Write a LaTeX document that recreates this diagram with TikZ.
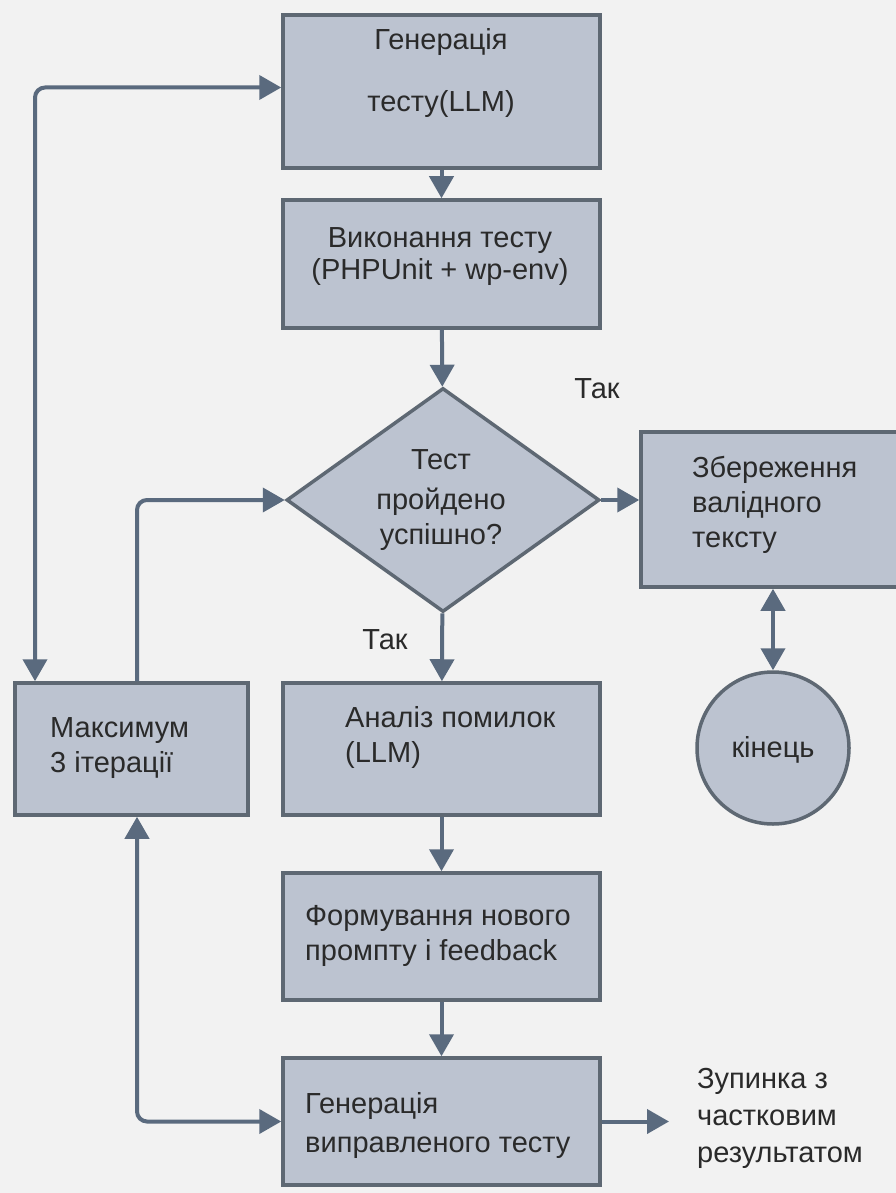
\documentclass[tikz,border=0pt]{standalone}
\usepackage{fontspec}
\setmainfont{Liberation Sans}
\usetikzlibrary{arrows.meta,shapes.geometric}
\definecolor{bg}{HTML}{F2F2F2}
\definecolor{boxfill}{HTML}{BCC3D0}
\definecolor{boxline}{HTML}{5E6873}
\definecolor{link}{HTML}{5A6A7E}
\definecolor{ink}{HTML}{2A2A2A}
\begin{document}
\begin{tikzpicture}[x=1pt,y=-1pt,
  >={Triangle[length=22pt,width=24pt]},
  box/.style={draw=boxline, fill=boxfill, line width=3.5pt, inner sep=0pt},
  txt/.style={font=\fontsize{29}{35}\selectfont, text=ink, inner sep=0pt},
  conn/.style={draw=link, line width=4pt}]
  % canvas
  \fill[bg] (0,0) rectangle (896,1193);
  \useasboundingbox (0,0) rectangle (896,1193);

  % boxes
  \node[box, minimum width=317pt, minimum height=153pt] (gen) at (441.5,91.5) {};
  \node[box, minimum width=317pt, minimum height=128pt] (run) at (441.5,264) {};
  \node[box, shape=diamond, minimum width=313pt, minimum height=224pt] (dec) at (443,500) {};
  \node[box, minimum width=258pt, minimum height=155pt] (save) at (770,509.5) {};
  \node[box, circle, minimum size=152pt] (end) at (773,748) {};
  \node[box, minimum width=233pt, minimum height=132pt] (lim) at (131.5,749) {};
  \node[box, minimum width=317pt, minimum height=132pt] (ana) at (441.5,749) {};
  \node[box, minimum width=317pt, minimum height=127pt] (prm) at (441.5,936.5) {};
  \node[box, minimum width=317pt, minimum height=127pt] (fix) at (441.5,1121.5) {};

  % texts
  \node[txt] (tgen1) at (441,42) {Генерація};
  \node[txt] (tgen2) at (441,104) {тесту(LLM)};
  \node[txt, align=center] (trun) at (440,257) {Виконання тесту\\[-3pt](PHPUnit + wp-env)};
  \node[txt, align=center] (tdec) at (441,500) {Тест\\[5pt]пройдено\\успішно?};
  \node[txt, anchor=west, align=left] (tsave) at (692,505) {Збереження\\валідного\\тексту};
  \node[txt] (tend) at (773,750) {кінець};
  \node[txt, anchor=west, align=left] (tlim) at (50,748) {Максимум\\3 ітерації};
  \node[txt, anchor=west, align=left] (tana) at (345,737) {Аналіз помилок\\(LLM)};
  \node[txt, anchor=west, align=left] (tprm) at (305,936) {Формування нового\\промпту і feedback};
  \node[txt, anchor=west, align=left] (tfix) at (305,1125) {Генерація\\[4pt]виправленого тесту};
  \node[txt, anchor=west, align=left] (stop) at (697,1118) {Зупинка з\\[2pt]частковим\\[2pt]результатом};
  \node[txt] (yes1) at (597,389) {Так};
  \node[txt] (yes2) at (385,640) {Так};

  % connectors
  \draw[conn,->] (gen) -- (run);
  \draw[conn,->] (run) -- (dec);
  \draw[conn,->] (dec.east) -- (dec.east -| save.west);
  \draw[conn,<->] (end.north) -- (end.north |- save.south);
  \draw[conn,->] (dec) -- (ana);
  \draw[conn,->] (ana) -- (prm);
  \draw[conn,->] (prm) -- (fix);
  \draw[conn,->, shorten >=28pt] (fix.east) -- (fix.east -| stop.west);
  \draw[conn,<->, rounded corners=10pt] ([yshift=4pt]gen.west) -| ([xshift=-96.5pt]lim.north);
  \draw[conn,->, rounded corners=10pt] ([xshift=5.5pt]lim.north) |- (dec.west);
  \draw[conn,<->, rounded corners=10pt] ([xshift=5.5pt]lim.south) |- (fix.west);
\end{tikzpicture}
\end{document}
